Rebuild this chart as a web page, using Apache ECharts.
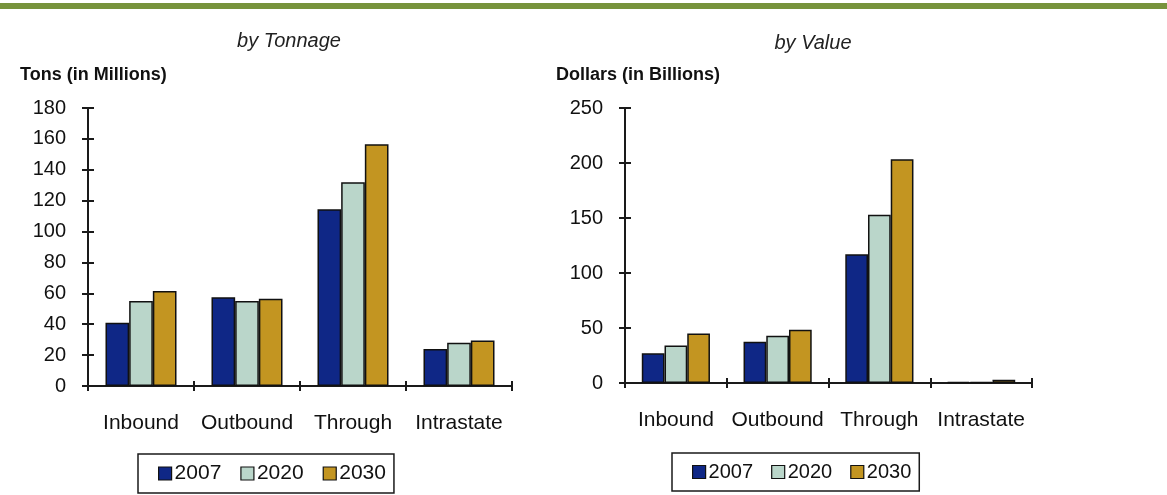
<!DOCTYPE html>
<html><head><meta charset="utf-8">
<script src="https://cdn.jsdelivr.net/npm/echarts@6/dist/echarts.min.js"></script>
<style>html,body{margin:0;padding:0;background:#fff}#c{width:1167px;height:495px}</style>
</head><body><div id="c"></div>
<script>
const categories = ['Inbound','Outbound','Through','Intrastate'];
const years = ['2007','2020','2030'];
const tons2007 = [41, 57.5, 114.5, 24];
const tons2020 = [55, 55, 132, 28];
const tons2030 = [61.5, 56.5, 156.5, 29.5];
const value2007 = [27, 37.5, 117, 1];
const value2020 = [34, 43, 153, 1];
const value2030 = [45, 48.5, 203.5, 3];
const tonTicks = {max:180, interval:20};
const valueTicks = {max:250, interval:50};

const colors = ['#0f2786','#bad6ca','#c39521'];
const font = 'Liberation Sans';
const chart = echarts.init(document.getElementById('c'));

function grid(left, top, width, height){ return {left, top, width, height, containLabel:false}; }
function xAxes(gi){
  const base = {type:'category', data:categories, gridIndex:gi, position:'bottom',
    axisLine:{lineStyle:{color:'#1a1a1a', width:2}},
    splitLine:{show:false}};
  return [
    Object.assign({}, base, {axisTick:{show:true, inside:false, length:5, lineStyle:{color:'#1a1a1a',width:2}},
      axisLabel:{show:true, interval:0, margin:27, fontSize:21, color:'#111', fontFamily:font}}),
    Object.assign({}, base, {axisTick:{show:true, inside:true, length:5, lineStyle:{color:'#1a1a1a',width:2}},
      axisLabel:{show:false}})
  ];
}
function yAxes(gi, t){
  const base = {type:'value', gridIndex:gi, min:0, max:t.max, interval:t.interval, position:'left',
    axisLine:{show:true, lineStyle:{color:'#1a1a1a', width:2}}, splitLine:{show:false}};
  return [
    Object.assign({}, base, {axisTick:{show:true, inside:false, length:6, lineStyle:{color:'#1a1a1a',width:2}},
      axisLabel:{show:true, margin:22, fontSize:20, color:'#111', fontFamily:font}}),
    Object.assign({}, base, {axisTick:{show:true, inside:true, length:6, lineStyle:{color:'#1a1a1a',width:2}},
      axisLabel:{show:false}})
  ];
}
function bars(gi, data){
  return data.map((d,i)=>({
    type:'bar', name:years[i], data:d, xAxisIndex:gi*2, yAxisIndex:gi*2,
    barGap:'0%', barCategoryGap:'33%',
    itemStyle:{color:colors[i], borderColor:'#111', borderWidth:1.5},
    emphasis:{disabled:true}
  }));
}
function legend(left, top, fs, gap){
  return {data:years, orient:'horizontal', left, top, itemWidth:13, itemHeight:13, itemGap:gap,
    borderColor:'#1a1a1a', borderWidth:1.5, padding:[9,8,9,20],
    textStyle:{fontSize:fs, color:'#111', fontFamily:font, padding:[0,0,0,-2]},
    icon:'rect', itemStyle:{borderColor:'#111', borderWidth:1.2}};
}
const titleStyle = {fontSize:20, fontStyle:'italic', fontWeight:'normal', color:'#222', fontFamily:font};
const nameStyle = {fontSize:18, fontWeight:'bold', color:'#111', fontFamily:font};

chart.setOption({
  animation:false,
  graphic:[{type:'rect', shape:{x:0,y:3,width:1167,height:6}, style:{fill:'#77933c'}}],
  title:[
    {text:'by Tonnage', left:289, top:31, padding:0, textAlign:'center', textStyle:titleStyle},
    {text:'by Value', left:813, top:33, padding:0, textAlign:'center', textStyle:titleStyle},
    {text:'Tons (in Millions)', left:20, top:66, padding:0, textStyle:nameStyle},
    {text:'Dollars (in Billions)', left:556, top:66, padding:0, textStyle:nameStyle}
  ],
  legend:[legend(138, 454, 21, 19), legend(672, 453, 20, 18)],
  grid:[grid(88,108,424,278), grid(625,108,407,275)],
  xAxis:[...xAxes(0), ...xAxes(1)],
  yAxis:[...yAxes(0,tonTicks), ...yAxes(1,valueTicks)],
  series:[...bars(0,[tons2007,tons2020,tons2030]), ...bars(1,[value2007,value2020,value2030])]
});
</script></body></html>
